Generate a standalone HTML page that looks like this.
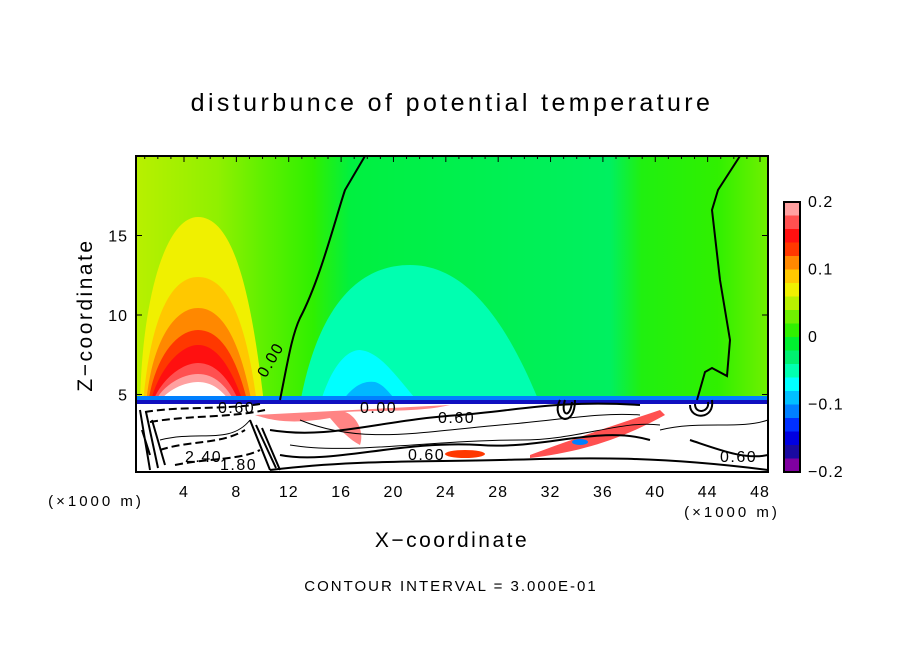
<!DOCTYPE html>
<html><head><meta charset="utf-8"><style>
html,body{margin:0;padding:0;background:#fff;}
svg{display:block;font-family:"Liberation Sans",sans-serif;}
</style></head><body>
<svg id="chart" width="904" height="654" viewBox="0 0 904 654">
<defs>
<linearGradient id="bg" x1="136" x2="768" y1="0" y2="0" gradientUnits="userSpaceOnUse">
<stop offset="0" stop-color="#b8f000"/><stop offset="0.13" stop-color="#90f000"/>
<stop offset="0.2" stop-color="#60f000"/><stop offset="0.28" stop-color="#30f000"/>
<stop offset="0.34" stop-color="#00f040"/><stop offset="0.75" stop-color="#00f060"/>
<stop offset="0.8" stop-color="#20f010"/><stop offset="0.92" stop-color="#30f000"/>
<stop offset="1" stop-color="#70f000"/></linearGradient>
<clipPath id="clip"><rect x="136" y="156" width="632" height="316"/></clipPath>
</defs>
<text x="452" y="111" text-anchor="middle" font-size="25" letter-spacing="3.4">disturbunce of potential temperature</text>
<g clip-path="url(#clip)">
<rect x="136" y="156" width="632" height="316" fill="url(#bg)"/>
<path d="M300,404 C315,320 350,265 410,265 C470,265 510,330 540,404Z" fill="#00ffb0"/>
<path d="M320,404 C330,370 345,350 360,350 C380,352 395,375 420,404Z" fill="#00ffff"/>
<path d="M340,404 C350,390 360,380 375,382 C385,385 390,395 400,404Z" fill="#00b8ff"/>
<g>
<path d="M140,404 C142,300 165,217 198,217 C235,217 252,300 264,404Z" fill="#f0f000"/>
<path d="M143,404 C150,320 170,277 198,277 C228,277 246,320 257,404Z" fill="#ffc800"/>
<path d="M146,404 C152,340 175,308 198,308 C222,308 240,340 252,404Z" fill="#ff8800"/>
<path d="M148,404 C155,355 178,330 198,330 C220,330 236,355 248,404Z" fill="#ff3800"/>
<path d="M150,404 C158,370 180,345 198,345 C218,345 232,370 244,404Z" fill="#ff1010"/>
<path d="M152,404 C160,380 182,363 198,363 C216,363 230,380 240,404Z" fill="#ff5050"/>
<path d="M154,404 C162,385 183,374 198,374 C214,374 226,385 236,404Z" fill="#ffa0a0"/>
<path d="M158,404 C166,390 185,382 198,382 C212,382 222,390 232,404Z" fill="#fff"/>
</g>
<rect x="136" y="396" width="632" height="6" fill="#0080ff"/>
<rect x="136" y="400" width="632" height="4" fill="#1010c0"/>
<rect x="136" y="404" width="632" height="68" fill="#fff"/>
<path d="M255,415 C270,420 290,425 330,418 C340,430 350,440 360,445 C365,430 355,415 345,412 C390,410 420,412 450,405Z" fill="#ff5050" opacity="0.7"/>
<ellipse cx="465" cy="454" rx="20" ry="4" fill="#ff3800"/>
<path d="M530,455 C570,440 600,430 660,410 L665,415 C620,440 580,452 530,458Z" fill="#ff5050"/>
<ellipse cx="580" cy="442" rx="8" ry="3" fill="#0080ff"/>
<g fill="none" stroke="#000" stroke-width="2">
<path d="M280,400 C288,360 292,335 300,318 C320,280 335,220 345,190 L365,156"/>
<path d="M740,156 L718,190 L712,210 L720,280 L730,340 L727,376 L712,368 L705,372 L697,400"/>
<path d="M270,430 C330,440 380,420 460,415 C520,410 560,400 640,405"/>
<path d="M280,455 C330,465 400,440 480,445 C540,450 600,425 650,440"/>
<path d="M270,470 C350,460 420,462 500,460 C580,458 650,455 768,470"/>
<path d="M140,410 L150,470 M146,412 L158,468 M152,420 L165,465 M142,430 L150,455" />
<path d="M250,420 L270,470 M256,425 L276,468 M262,428 L280,470"/>
<path d="M560,400 C550,420 575,430 575,400 M565,400 C560,415 570,420 572,402" />
<path d="M690,405 C690,420 715,420 712,400 M695,404 C695,415 710,412 708,402"/>
<path d="M690,440 C720,450 745,460 768,455"/>
</g>
<g fill="none" stroke="#000" stroke-width="1">
<path d="M300,420 C360,445 420,432 500,425 C560,420 600,412 640,415"/>
<path d="M290,445 C350,455 430,440 520,440 C580,440 620,420 660,425"/>
<path d="M160,440 C200,430 230,445 250,420"/>
<path d="M660,430 C700,420 740,430 768,420"/>
</g>
<g fill="none" stroke="#000" stroke-width="2" stroke-dasharray="8,4">
<path d="M145,412 C180,406 220,410 260,404"/><path d="M150,422 C190,415 230,418 265,410"/>
<path d="M160,450 C190,440 220,445 245,430"/><path d="M175,465 C210,458 240,460 260,450"/>
</g>
<g font-size="16" letter-spacing="1.5">
<text x="258" y="375" transform="rotate(-60 265 370)">0.00</text>
<text x="218" y="413">0.60</text><text x="360" y="413">0.00</text>
<text x="438" y="423">0.60</text><text x="408" y="460">0.60</text>
<text x="185" y="462">2.40</text><text x="220" y="470">1.80</text>
<text x="720" y="462">0.60</text>
</g>
</g>
<rect x="136" y="156" width="632" height="316" fill="none" stroke="#000" stroke-width="2"/>
<g id="xticks"></g>
<g id="yticks"></g>
<g id="cbar"></g>
<text x="96" y="506" text-anchor="middle" font-size="15" letter-spacing="3">(×1000 m)</text>
<text x="732" y="517" text-anchor="middle" font-size="15" letter-spacing="3">(×1000 m)</text>
<text x="452" y="547" text-anchor="middle" font-size="21" letter-spacing="2.5">X−coordinate</text>
<text x="0" y="0" text-anchor="middle" font-size="21" letter-spacing="2.5" transform="translate(92,315) rotate(-90)">Z−coordinate</text>
<text x="451" y="591" text-anchor="middle" font-size="15" letter-spacing="2">CONTOUR INTERVAL = 3.000E-01</text>
</svg>
<script>
const xTicks=[4,8,12,16,20,24,28,32,36,40,44,48];
const yTicks=[5,10,15];
const cbarColors=["#ffa0a0","#ff5050","#ff1010","#ff3800","#ff8800","#ffc800","#f0f000","#b8f000","#70f000","#30f000","#00f030","#00f070","#00ffb0","#00ffff","#00c0ff","#0080ff","#0030ff","#0000e0","#1a0aa0","#8000a0"];
const cbarLabels=["0.2","0.1","0","−0.1","−0.2"];
const cbarValues=[0.2,0.1,0,-0.1,-0.2];
const NS="http://www.w3.org/2000/svg";
function xs(v){return 184+(v-4)*(576/44);}
function ys(v){return 474-v*15.9;}
function cs(v){return 202+(0.2-v)/0.4*270;}
const gx=document.getElementById('xticks'),gy=document.getElementById('yticks'),gc=document.getElementById('cbar');
for(let i=1;i<=48;i++){const l=document.createElementNS(NS,'line');const x=xs(i);const big=i%4===0;
l.setAttribute('x1',x);l.setAttribute('x2',x);l.setAttribute('y1',156);l.setAttribute('y2',156+(big?6:3));l.setAttribute('stroke','#000');


gx.appendChild(l);}
xTicks.forEach(v=>{const t=document.createElementNS(NS,'text');t.setAttribute('x',xs(v));t.setAttribute('y',497);t.setAttribute('text-anchor','middle');t.setAttribute('font-size','16');t.setAttribute('letter-spacing','1');t.textContent=v;


gx.appendChild(t);});
yTicks.forEach(v=>{const t=document.createElementNS(NS,'text');t.setAttribute('x',128);t.setAttribute('y',ys(v)+6);t.setAttribute('text-anchor','end');t.setAttribute('font-size','16');t.setAttribute('letter-spacing','1');t.textContent=v;


gy.appendChild(t);
[136,768].forEach((x0,k)=>{const l=document.createElementNS(NS,'line');l.setAttribute('x1',x0);l.setAttribute('x2',k?x0-6:x0+6);l.setAttribute('y1',ys(v));l.setAttribute('y2',ys(v));l.setAttribute('stroke','#000');


gy.appendChild(l);});});
const bh=270/cbarColors.length;
cbarColors.forEach((c,i)=>{const r=document.createElementNS(NS,'rect');r.setAttribute('x',784);r.setAttribute('y',202+i*bh);r.setAttribute('width',16);r.setAttribute('height',bh+0.5);r.setAttribute('fill',c);


gc.appendChild(r);});
const fr=document.createElementNS(NS,'rect');fr.setAttribute('x',784);fr.setAttribute('y',202);fr.setAttribute('width',16);fr.setAttribute('height',270);fr.setAttribute('fill','none');fr.setAttribute('stroke','#000');fr.setAttribute('stroke-width','2');


gc.appendChild(fr);
cbarValues.forEach((v,i)=>{const t=document.createElementNS(NS,'text');t.setAttribute('x',808);t.setAttribute('y',cs(v)+5);t.setAttribute('font-size','16');t.setAttribute('letter-spacing','1');t.textContent=cbarLabels[i];


gc.appendChild(t);});
</script>
</body></html>
